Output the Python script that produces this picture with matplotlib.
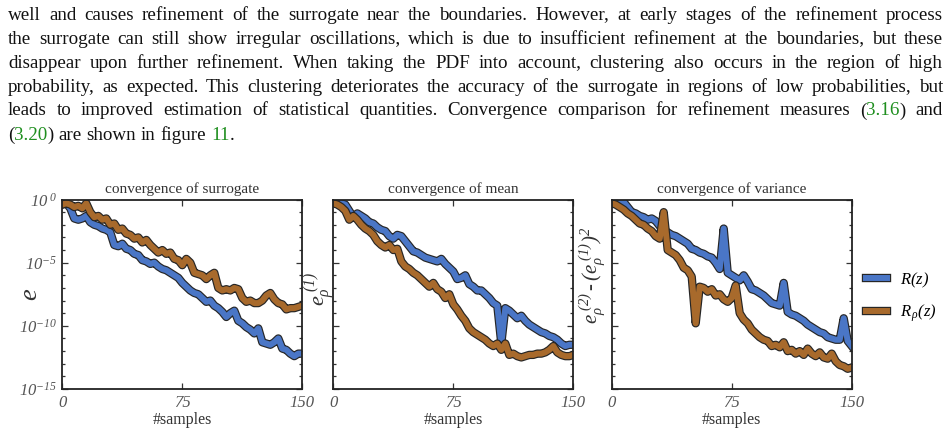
import re
import numpy as np
import matplotlib
matplotlib.use('Agg')
import matplotlib.pyplot as plt
import matplotlib.patheffects as pe
from matplotlib.ticker import FixedLocator, NullFormatter

plt.rcParams['font.family'] = 'Liberation Serif'
plt.rcParams['mathtext.fontset'] = 'custom'
plt.rcParams['mathtext.rm'] = 'Liberation Serif:italic'
plt.rcParams['mathtext.it'] = 'Liberation Serif:italic'
plt.rcParams['mathtext.bf'] = 'Liberation Serif:italic:bold'

# number of samples (x grid, every 2.5 samples)
samples = np.arange(0, 150.1, 2.5)

# log10 of the error
surr_R = [-0.4, -0.3, -0.7, -1.5, -1.6, -1.5, -1.3, -1.8, -2.0, -2.1,
          -2.3, -2.4, -2.6, -3.6, -3.7, -3.5, -3.9, -4.0, -4.3, -4.4,
          -4.8, -4.9, -5.1, -5.0, -5.3, -5.5, -5.6, -5.8, -6.0, -6.2,
          -6.6, -6.9, -7.2, -7.4, -7.5, -7.8, -8.1, -8.0, -8.4, -8.6,
          -8.9, -9.3, -9.0, -8.8, -9.6, -9.8, -10.1, -10.3, -10.6, -10.2,
          -11.3, -11.4, -11.5, -11.3, -11.0, -11.8, -11.9, -12.2, -12.4, -12.2,
          -12.2]
surr_Rp = [-0.4, -0.3, -0.4, -0.6, -0.5, -0.7, -0.3, -1.0, -1.4, -1.3,
           -1.6, -1.5, -2.0, -1.9, -2.4, -2.3, -2.7, -2.8, -3.1, -3.0,
           -3.4, -3.2, -3.6, -3.9, -4.2, -4.0, -4.3, -4.2, -4.7, -4.8,
           -5.2, -4.7, -5.0, -5.8, -5.9, -6.0, -6.3, -6.0, -5.8, -7.0,
           -7.2, -7.1, -7.2, -7.0, -7.1, -7.8, -8.1, -8.0, -8.2, -8.2,
           -8.0, -7.6, -7.4, -7.9, -8.2, -8.3, -8.7, -8.6, -8.6, -8.5,
           -8.4]
mean_R = [-0.2, -0.2, -0.3, -0.4, -0.9, -1.4, -1.1, -1.3, -1.5, -1.8,
          -1.9, -2.2, -2.4, -2.5, -2.9, -3.1, -2.8, -2.9, -3.3, -3.7,
          -4.1, -4.2, -4.4, -4.6, -4.7, -4.8, -4.9, -4.7, -5.1, -5.4,
          -5.7, -6.3, -6.2, -6.0, -6.7, -6.9, -7.2, -7.2, -7.5, -7.8,
          -8.2, -8.4, -11.4, -8.6, -8.8, -9.1, -9.4, -9.2, -9.6, -9.9,
          -10.1, -10.3, -10.5, -10.6, -10.8, -10.9, -11.1, -11.4, -11.6, -11.5,
          -11.5]
mean_Rp = [-0.3, -0.4, -0.6, -0.9, -1.6, -1.3, -1.6, -2.0, -2.3, -2.5,
           -2.8, -3.3, -3.6, -3.8, -3.6, -4.0, -3.9, -4.9, -5.3, -5.5,
           -5.8, -6.0, -6.3, -6.6, -6.9, -6.6, -7.1, -7.3, -7.8, -7.5,
           -8.3, -8.7, -9.2, -9.6, -10.2, -10.5, -10.7, -10.9, -11.1, -11.4,
           -11.6, -11.4, -11.9, -11.4, -12.3, -12.2, -12.4, -12.5, -12.4, -12.3,
           -12.3, -12.2, -12.2, -12.1, -11.9, -11.6, -12.1, -12.3, -12.4, -12.4,
           -12.3]
var_R = [-0.1, -0.1, -0.2, -0.2, -0.6, -1.0, -1.1, -1.3, -1.4, -1.6,
         -1.5, -1.7, -2.1, -2.4, -2.6, -2.8, -2.9, -3.1, -3.3, -3.5,
         -3.9, -4.0, -4.2, -4.3, -4.5, -4.6, -5.0, -5.5, -2.3, -5.8,
         -6.0, -6.2, -6.4, -6.0, -6.5, -7.1, -7.2, -7.4, -7.6, -7.9,
         -8.2, -8.3, -8.4, -6.6, -8.9, -9.1, -9.2, -9.4, -9.6, -9.9,
         -10.1, -10.3, -10.5, -10.6, -10.9, -11.0, -11.1, -11.1, -9.4, -11.2,
         -11.6]
var_Rp = [-0.3, -0.4, -0.6, -0.8, -1.1, -1.3, -1.6, -1.9, -2.0, -2.3,
          -2.5, -2.9, -3.1, -1.0, -4.0, -4.2, -4.4, -4.8, -5.4, -5.6,
          -6.1, -9.8, -6.9, -7.0, -7.3, -7.1, -7.6, -7.5, -7.9, -8.1,
          -7.8, -6.8, -9.0, -9.5, -9.8, -10.3, -10.6, -10.9, -11.1, -11.2,
          -11.6, -11.5, -11.7, -11.3, -12.0, -11.9, -12.2, -12.0, -12.3, -11.8,
          -12.2, -12.4, -12.1, -12.5, -12.6, -12.2, -12.8, -13.1, -13.2, -13.4,
          -13.3]

titles = ['convergence of surrogate', 'convergence of mean', 'convergence of variance']
ylabels = [r'$e$', r'$e_\rho^{\ (1)}$', r'$e_\rho^{\ (2)}\,$-$\,(e_\rho^{\ (1)})^2$']
legend_labels = [r'$R(z)$', r'$R_{\,\rho}(z)$']
xtick_vals = [0, 75, 150]
ytick_exp = [-15, -10, -5, 0]

blue = '#4a76c6'
brown = '#a86a2c'

# paragraph above the figure; {..} marks green references
para = [
    "well and causes refinement of the surrogate near the boundaries. However, at early stages of the refinement process",
    "the surrogate can still show irregular oscillations, which is due to insufficient refinement at the boundaries, but these",
    "disappear upon further refinement. When taking the PDF into account, clustering also occurs in the region of high",
    "probability, as expected. This clustering deteriorates the accuracy of the surrogate in regions of low probabilities, but",
    "leads to improved estimation of statistical quantities. Convergence comparison for refinement measures ({3.16}) and",
    "({3.20}) are shown in figure {11}.",
]

fig = plt.figure(figsize=(9.49, 4.29), dpi=100)
W, H = 949.0, 429.0

lefts = [62.3, 333.3, 611.7]
ax_w, top_px, bot_px = 240.0, 199.5, 389.0
series = [(surr_R, surr_Rp), (mean_R, mean_Rp), (var_R, var_Rp)]
ylab_xy = [(-0.085, 0.5), (0.015, 0.53), (-0.015, 0.6)]
ylab_size = [19, 16, 15]

fx = [pe.Stroke(linewidth=6.0, foreground='#262626'), pe.Normal()]
axes = []
for i in range(3):
    ax = fig.add_axes([lefts[i] / W, 1 - bot_px / H, ax_w / W, (bot_px - top_px) / H])
    axes.append(ax)
    for vals, col, lab in zip(series[i], [blue, brown], legend_labels):
        ax.plot(samples, 10.0 ** np.array(vals), color=col, lw=4.3,
                solid_joinstyle='round', path_effects=fx, label=lab)
    ax.set_yscale('log')
    ax.set_xlim(0, 150)
    ax.set_ylim(1e-15, 1)
    ax.yaxis.set_major_locator(FixedLocator([10.0 ** e for e in ytick_exp]))
    ax.yaxis.set_minor_locator(FixedLocator([10.0 ** e for e in range(-15, 1)]))
    ax.yaxis.set_minor_formatter(NullFormatter())
    if i == 0:
        ax.set_yticklabels([r'$10^{%d}$' % e if e else r'$10^{\ 0}$' for e in ytick_exp],
                           fontsize=12)
    else:
        ax.set_yticklabels([])
    ax.set_xticks(xtick_vals)
    ax.set_xticklabels([str(v) for v in xtick_vals], fontstyle='italic', fontsize=12)
    ax.tick_params(which='both', direction='in', top=True, right=True,
                   colors='#333333', labelcolor='#555555', width=0.9)
    ax.tick_params(which='major', length=4, pad=4)
    ax.tick_params(which='minor', length=2.5)
    for sp in ax.spines.values():
        sp.set_linewidth(1.3)
        sp.set_color('#222222')
    ax.set_title(titles[i], fontsize=11, color='#333333', pad=5)
    ax.set_xlabel('#samples', fontsize=11.5, color='#333333', labelpad=1)
    ax.set_ylabel(ylabels[i], fontsize=ylab_size[i], color='#333333')
    ax.yaxis.set_label_coords(*ylab_xy[i])

axes[2].legend(loc='center left', bbox_to_anchor=(1.06, 0.485), borderaxespad=0,
               frameon=False, fontsize=12, handlelength=1.25, handletextpad=0.8,
               labelspacing=0.75, borderpad=0)

# justified paragraph text
txt_size = 13.7
green = '#1f8f1f'
renderer = fig.canvas.get_renderer()


def seg_width(s):
    t = fig.text(0, 0, s, fontsize=txt_size)
    w = t.get_window_extent(renderer).width
    t.remove()
    return w


space_w = seg_width('a a') - seg_width('aa')
x0, x1 = 8.0, 943.0
for k, line in enumerate(para):
    base = 19.5 + 24.0 * k
    words = []
    for w in line.split():
        segs = []
        for part in re.split(r'(\{[^}]*\})', w):
            if not part:
                continue
            if part.startswith('{'):
                segs.append((part[1:-1], green))
            else:
                segs.append((part, '#111111'))
        words.append([(s, c, seg_width(s)) for s, c in segs])
    total = sum(sum(sg[2] for sg in wd) for wd in words)
    if k < len(para) - 1:
        gap = (x1 - x0 - total) / (len(words) - 1)
    else:
        gap = space_w
    x = x0
    for wd in words:
        for s, c, w in wd:
            fig.text(x / W, 1 - base / H, s, fontsize=txt_size, color=c,
                     ha='left', va='baseline')
            x += w
        x += gap

fig.savefig('out.png', dpi=100)
